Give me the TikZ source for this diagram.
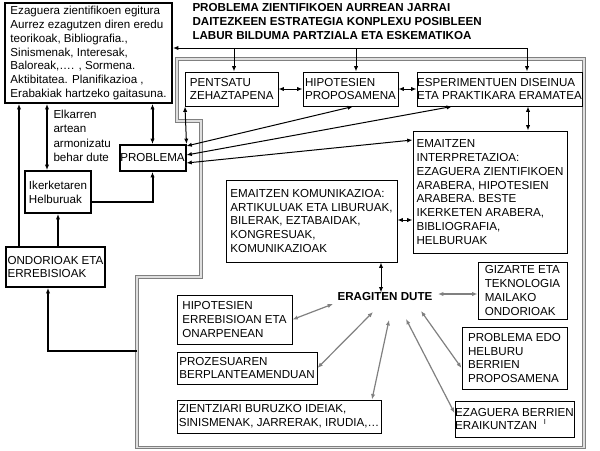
\documentclass[tikz,border=0pt]{standalone}
\usepackage{fontspec}
\setmainfont{Liberation Sans}
\usetikzlibrary{arrows.meta,calc}

\tikzset{every picture/.style={line width=0.75pt}}
\tikzset{
  box/.style={draw, align=left, inner sep=0pt, font=\fontsize{8.7}{10.4}\selectfont},
  heavybox/.style={box, line width=1.5pt},
  plaintext/.style={align=left, inner sep=0pt, font=\fontsize{8.7}{10.7}\selectfont},
  title/.style={align=left, inner sep=0pt, font=\bfseries\fontsize{8.7}{10.5}\selectfont},
  tip/.style={-{Latex[length=4pt,width=3.2pt]}},
  tips/.style={{Latex[length=4pt,width=3.2pt]}-{Latex[length=4pt,width=3.2pt]}},
  heavy/.style={line width=1.5pt},
  hub/.style={tips, draw=gray, line width=0.9pt},
  outline/.style={draw=gray, double=gray!25, double distance=0.9pt, line width=0.8pt}
}

\begin{document}
\begin{tikzpicture}[x=0.75pt,y=0.75pt,yscale=-1,xscale=1]
	\useasboundingbox (0,0) rectangle (600,450);

	%Shape: Frame
	\draw[outline] (177,59) -- (584,59) -- (584,447.5) -- (137,447.5) -- (137,277) -- (201,277) -- (201,121) -- (177,121) -- cycle ;

	% Text Node
	\node[title, anchor=north west] (title) at (192,2.6) {PROBLEMA ZIENTIFIKOEN AURREAN JARRAI\\DAITEZKEEN ESTRATEGIA KONPLEXU POSIBLEEN\\LABUR BILDUMA PARTZIALA ETA ESKEMATIKOA};

	%Shape: Rectangle [left part]
	\node[heavybox, minimum width=125.25pt, minimum height=75pt] (knowledge) at (88.5,53) {Ezaguera zientifikoen egitura\\Aurrez ezagutzen diren eredu\\teorikoak, Bibliografia.,\\Sinismenak, Interesak,\\Baloreak,…. , Sormena.\\Aktibitatea. Planifikazioa ,\\Erabakiak hartzeko gaitasuna.};
	\node[heavybox, minimum width=49.5pt, minimum height=19.5pt] (problema) at (152.5,158) {PROBLEMA};
	\node[heavybox, minimum width=49.5pt, minimum height=31.5pt] (ikerketa) at (58,192) {Ikerketaren\\Helburuak};
	\node[heavybox, minimum width=74.25pt, minimum height=30pt] (ondorioak) at (55.5,267) {ONDORIOAK ETA\\ERREBISIOAK};
	% Text Node
	\node[plaintext, anchor=north west] (elkarren) at (53,109.6) {Elkarren\\artean\\armonizatu\\behar dute};

	%Shape: Rectangle [top row]
	\node[box, minimum width=69.4pt, minimum height=25.5pt] (pentsatu) at (231.75,89) {PENTSATU\\ZEHAZTAPENA};
	\node[box, minimum width=71.25pt, minimum height=25.5pt] (hipotesien) at (350.5,89) {HIPOTESIEN\\PROPOSAMENA};
	\node[box, minimum width=123.75pt, minimum height=25.5pt] (esperimentu) at (499.5,89) {ESPERIMENTUEN DISEINUA\\ETA PRAKTIKARA ERAMATEA};

	%Shape: Rectangle [results]
	\node[box, minimum width=115.5pt, minimum height=91.5pt] (interpret) at (490,192) {EMAITZEN\\INTERPRETAZIOA:\\EZAGUERA ZIENTIFIKOEN\\ARABERA, HIPOTESIEN\\ARABERA. BESTE\\IKERKETEN ARABERA,\\BIBLIOGRAFIA,\\HELBURUAK};
	\node[box, minimum width=128.25pt, minimum height=61.5pt] (komunik) at (311.5,221) {EMAITZEN KOMUNIKAZIOA:\\ARTIKULUAK ETA LIBURUAK,\\BILERAK, EZTABAIDAK,\\KONGRESUAK,\\KOMUNIKAZIOAK};

	% Text Node
	\node[title] (eragiten) at (385,297) {ERAGITEN DUTE};

	%Shape: Rectangle [effects]
	\node[box, minimum width=66.75pt, minimum height=42.75pt] (gizarte) at (522.5,290.5) {GIZARTE ETA\\TEKNOLOGIA\\MAILAKO\\ONDORIOAK};
	\node[box, minimum width=78.75pt, minimum height=46.5pt] (problemaedo) at (514.5,358) {PROBLEMA EDO\\HELBURU\\BERRIEN\\PROPOSAMENA};
	\node[box, minimum width=89.25pt, minimum height=27pt] (ezaguera) at (514.5,419) {EZAGUERA BERRIEN\\ERAIKUNTZAN};
	\node[font=\fontsize{5.5}{6}\selectfont, inner sep=0pt] (cursor) at (545,421.5) {I};
	\node[box, minimum width=86.25pt, minimum height=36.75pt] (hiperreb) at (234.5,319.5) {HIPOTESIEN\\ERREBISIOAN ETA\\ONARPENEAN};
	\node[box, minimum width=105pt, minimum height=24pt] (prozesu) at (247,368) {PROZESUAREN\\BERPLANTEAMENDUAN};
	\node[box, minimum width=153pt, minimum height=24.75pt] (zientziari) at (279,416.5) {ZIENTZIARI BURUZKO IDEIAK,\\SINISMENAK, JARRERAK, IRUDIA,…};

	% Coordinates
	\coordinate (busend) at (527,48);
	\coordinate (framejoin) at (137,351);
	\coordinate (e-hiperreb) at ($(eragiten)+(-52,7)$);
	\coordinate (e-prozesu) at ($(eragiten)+(-12,15)$);
	\coordinate (e-zientziari) at ($(eragiten)+(4,23)$);
	\coordinate (e-ezaguera) at ($(eragiten)+(21,22)$);
	\coordinate (e-problemaedo) at ($(eragiten)+(36,14)$);
	\coordinate (e-gizarte) at ($(eragiten)+(53,-3)$);

	%Straight Lines [bus]
	\draw[tip] (busend) -- (knowledge.east |- busend) ;
	\draw[tip] (busend) -- (esperimentu.north -| busend) ;
	\draw[tip] (busend -| 234,0) -- (pentsatu.north -| 234,0) ;
	\draw[tip] (busend -| 356,0) -- (hipotesien.north -| 356,0) ;

	%Straight Lines [top row]
	\draw[tips] (pentsatu.east) -- (hipotesien.west) ;
	\draw[tips] (hipotesien.east) -- (esperimentu.west) ;
	\draw[tips] (esperimentu.south -| 528,0) -- (interpret.north -| 528,0) ;
	\draw[tips] (komunik.east |- 0,220) -- (interpret.west |- 0,220) ;
	\draw[tips] (komunik.south -| 381,0) -- (eragiten.north -| 381,0) ;

	%Straight Lines [to problema]
	\draw[tips] (problema.north east) -- (pentsatu.south west) ;
	\draw[tips] (hipotesien.south -| 353,0) -- (problema.east |- 0,146) ;
	\draw[tips] (esperimentu.south -| 452,0) -- (problema.east |- 0,155) ;
	\draw[tips] (interpret.west |- 0,140) -- (problema.east |- 0,163) ;

	%Straight Lines [left part]
	\draw[heavy, tip] (ondorioak.north -| 19,0) -- (knowledge.south -| 19,0) ;
	\draw[heavy, tips] (knowledge.south -| 47,0) -- (ikerketa.north -| 47,0) ;
	\draw[heavy, tips] (knowledge.south -| problema.north) -- (problema.north) ;
	\draw[heavy, tip] (ikerketa.east |- 0,202) -| (problema.south) ;
	\draw[heavy, tip] (ondorioak.north -| ikerketa.south) -- (ikerketa.south) ;
	\draw[heavy, tip] (framejoin) -| (ondorioak.south -| 48,0) ;

	%Straight Lines [eragiten]
	\draw[hub] (e-hiperreb) -- (hiperreb.east) ;
	\draw[hub] (e-prozesu) -- (prozesu.east) ;
	\draw[hub] (e-zientziari) -- (zientziari.north -| 372,0) ;
	\draw[hub] (e-ezaguera) -- (ezaguera.west |- 0,413) ;
	\draw[hub] (e-problemaedo) -- (problemaedo.west |- 0,368) ;
	\draw[hub] (e-gizarte) -- (gizarte.west |- e-gizarte) ;

\end{tikzpicture}
\end{document}
